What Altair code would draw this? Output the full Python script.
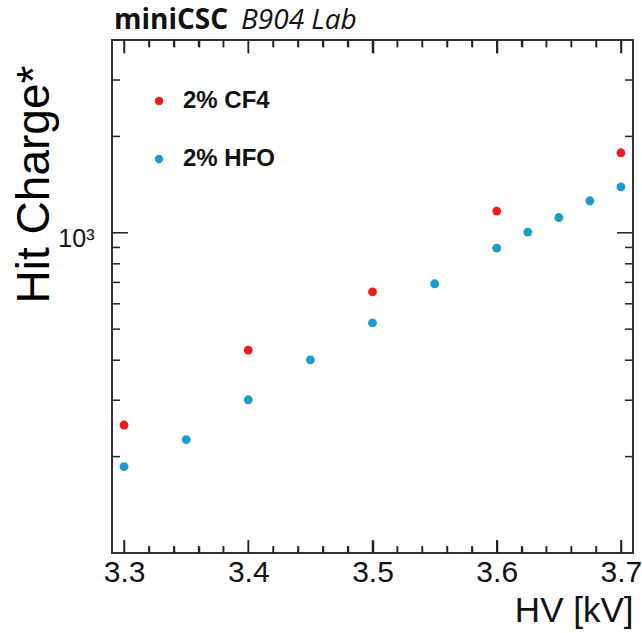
import altair as alt
import pandas as pd

# ---- data ----
hv_cf4 = [3.3, 3.4, 3.5, 3.6, 3.7]
q_cf4 = [251, 430, 654, 1169, 1778]
hv_hfo = [3.3, 3.35, 3.4, 3.45, 3.5, 3.55, 3.6, 3.625, 3.65, 3.675, 3.7]
q_hfo = [186, 226, 301, 401, 523, 693, 896, 1005, 1116, 1259, 1392]
series_names = ["2% CF4", "2% HFO"]
series_colors = ["#EE1B1B", "#1B9BD0"]

x_major = [3.3, 3.4, 3.5, 3.6, 3.7]
x_minor = [3.32, 3.34, 3.36, 3.38, 3.42, 3.44, 3.46, 3.48, 3.52, 3.54,
           3.56, 3.58, 3.62, 3.64, 3.66, 3.68]
y_major = [1000]
y_minor = [200, 300, 400, 500, 600, 700, 800, 900, 2000, 3000]
y_range = [100, 4000]

title_bold = ["miniCSC"]
title_ital = ["B904 Lab"]

W, H = 521, 513
FONT = "Liberation Sans"

df = pd.DataFrame({
    "hv": hv_cf4 + hv_hfo,
    "q": q_cf4 + q_hfo,
    "series": [series_names[0]] * len(hv_cf4) + [series_names[1]] * len(hv_hfo),
})

xscale = alt.Scale(domain=[3.2903, 3.7097], nice=False, zero=False)
yscale = alt.Scale(type="log", domain=y_range, nice=False)

xaxis = alt.Axis(orient="bottom", values=x_major, format=".1f", ticks=False, domain=False,
                 grid=False, labelFont=FONT, labelFontSize=30, labelColor="#111",
                 labelPadding=4, title="HV [kV]", titleFont=FONT,
                 titleFontSize=35, titleFontWeight="normal", titleColor="#111",
                 titleAnchor="end", titleAlign="right", titleX=W,
                 titleY=68, titleBaseline="alphabetic")
yaxis = alt.Axis(values=y_major, ticks=False, domain=False, grid=False,
                 labelExpr="datum.value == 1000 ? '10³' : ''",
                 labelFont=FONT, labelFontSize=25, labelColor="#111",
                 labelPadding=18, labelBaseline="middle", labelOffset=6,
                 title="Hit Charge*", titleFont=FONT, titleFontSize=46,
                 titleFontWeight="normal", titleColor="#000",
                 titleAngle=270, titleX=-78, titleY=144,
                 titleAlign="center", titleBaseline="middle")

points = alt.Chart(df).mark_circle(size=78, opacity=1).encode(
    x=alt.X("hv:Q", scale=xscale, axis=xaxis),
    y=alt.Y("q:Q", scale=yscale, axis=yaxis),
    color=alt.Color("series:N", scale=alt.Scale(domain=series_names, range=series_colors),
                    legend=alt.Legend(orient="none", legendX=35, legendY=49, title=None,
                                      symbolType="circle", symbolSize=70,
                                      symbolStrokeWidth=0, labelFont=FONT,
                                      labelFontSize=24, labelFontWeight="bold",
                                      labelColor="#111", rowPadding=34, labelOffset=12)),
)


def yticks(vals, length, side):
    d = pd.DataFrame({"yv": vals})
    if side == "left":
        xe, x2e = alt.value(0), alt.value(length)
    else:
        xe, x2e = alt.value(W), alt.value(W - length)
    return alt.Chart(d).mark_rule(color="#222", strokeWidth=1.5).encode(
        y=alt.Y("yv:Q", scale=yscale, axis=yaxis), x=xe, x2=x2e)


def xticks(vals, length, side):
    # inward ticks drawn by an axis placed on the opposite edge
    d = pd.DataFrame({"xv": vals})
    ax = alt.Axis(orient="top" if side == "bottom" else "bottom", offset=-H,
                  values=vals, tickSize=length, tickWidth=1.5, tickColor="#222",
                  labels=False, domain=False, grid=False, title=None)
    if side == "bottom":
        ye, y2e = alt.YDatum(y_range[0], scale=yscale, axis=yaxis), alt.value(H - length)
    else:
        ye, y2e = alt.YDatum(y_range[1], scale=yscale, axis=yaxis), alt.value(length)
    return alt.Chart(d).mark_rule(color="#222", strokeWidth=1.5).encode(
        x=alt.X("xv:Q", scale=xscale, axis=ax), y=ye, y2=y2e)


ticks = [
    yticks(y_major, 16, "left"), yticks(y_minor, 8, "left"),
    yticks(y_major, 16, "right"), yticks(y_minor, 8, "right"),
    xticks(x_major, 13, "bottom"), xticks(x_minor, 7, "bottom"),
    xticks(x_major, 13, "top"), xticks(x_minor, 7, "top"),
]

t1 = alt.Chart(pd.DataFrame({"t": title_bold})).mark_text(
    font="Open Sans", fontSize=28, fontWeight="bold", align="left", baseline="alphabetic",
    color="#111").encode(text="t:N", x=alt.value(2), y=alt.value(-11))
t2 = alt.Chart(pd.DataFrame({"t": title_ital})).mark_text(
    font="Open Sans", fontSize=28, fontStyle="italic", align="left", baseline="alphabetic",
    color="#111").encode(text="t:N", x=alt.value(129), y=alt.value(-11))

chart = alt.layer(points, *ticks, t1, t2).resolve_axis(x="independent").properties(
    width=W, height=H,
    autosize=alt.AutoSizeParams(type="none"),
    padding={"left": 112, "top": 40, "right": 9, "bottom": 80},
).configure(background="white").configure_view(stroke="#333", strokeWidth=2)

chart.save("out.html", embed_options={"renderer": "svg", "actions": False})
